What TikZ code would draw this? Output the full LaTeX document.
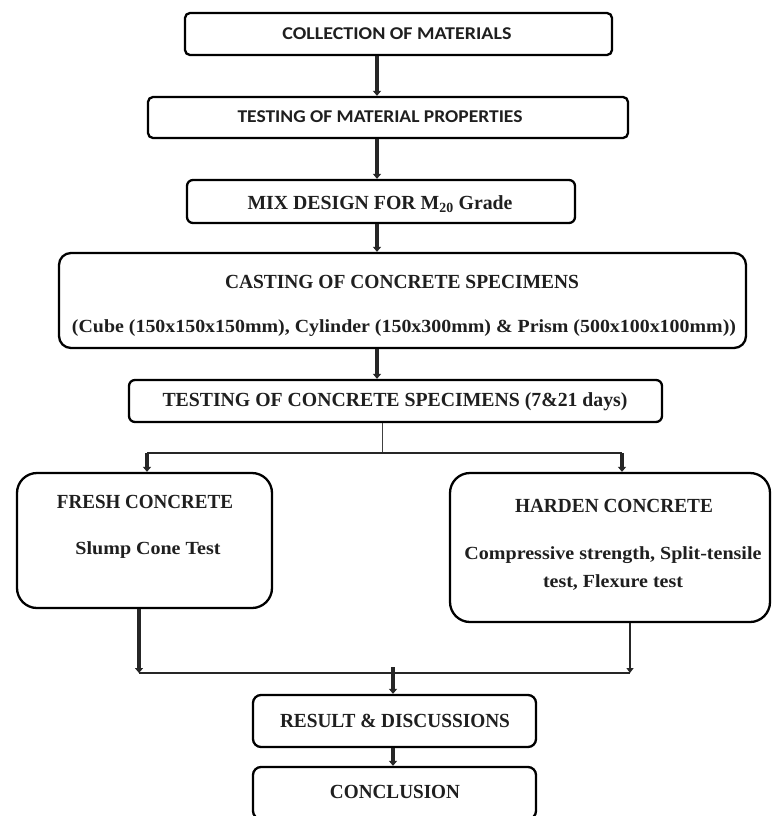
\documentclass[tikz,border=0pt]{standalone}
\usepackage{fontspec}
\setmainfont{Liberation Serif}
\newfontfamily\calib{Carlito}
\usepackage{graphicx}
\usetikzlibrary{arrows.meta}
\newcommand\fw[2]{\resizebox{#1}{\height}{#2}}
\begin{document}
\begin{tikzpicture}[x=1pt,y=-1pt,
  box/.style={draw=black, line width=2.3pt, rounded corners=#1, inner sep=0pt, fill=white},
  box/.default=6pt,
  lbl/.style={inner sep=0pt, text=black!88, font=\bfseries\fontsize{20}{22}\selectfont},
  sub/.style={inner sep=0pt, text=black!88, font=\bfseries\fontsize{18.5}{20}\selectfont},
  cal/.style={inner sep=0pt, text=black!88, font=\calib\bfseries\fontsize{18}{20}\selectfont},
  arr/.style={line width=3.6pt, draw=black!85, -{Triangle[width=8pt,length=5pt]}},
  arrb/.style={line width=2.4pt, draw=black!85, -{Triangle[width=7pt,length=5pt]}},
  thin/.style={line width=1pt, draw=black!75},
  bar/.style={line width=2pt, draw=black!85}]
\useasboundingbox (0,0) rectangle (772,816);
\fill[white] (0,0) rectangle (772,816);

% boxes
\node[box=5pt, minimum width=427pt, minimum height=42pt] (b1) at (398.5,34) {};
\node[box=5pt, minimum width=480pt, minimum height=41pt] (b2) at (388,117.5) {};
\node[box=6pt, minimum width=388pt, minimum height=43pt] (b3) at (381,201.5) {};
\node[box=12pt, minimum width=687pt, minimum height=95pt] (b4) at (402.5,300.5) {};
\node[box=6pt, minimum width=533pt, minimum height=42pt] (b5) at (395.5,401) {};
\node[box=20pt, minimum width=255pt, minimum height=135pt] (fresh) at (144.5,540.5) {};
\node[box=20pt, minimum width=320pt, minimum height=149pt] (harden) at (610,547.5) {};
\node[box=8pt, minimum width=283pt, minimum height=52pt] (res) at (394.5,721) {};
\node[box=8pt, minimum width=283pt, minimum height=52pt] (conc) at (394.5,793) {};

% labels
\node[cal] (t1) at (397,34) {\fw{229pt}{COLLECTION OF MATERIALS}};
\node[cal] (t2) at (380,117) {\fw{285pt}{TESTING OF MATERIAL PROPERTIES}};
\node[lbl] (t3) at (380,204) {\fw{265pt}{MIX DESIGN FOR M\textsubscript{20} Grade}};
\node[lbl] (t4a) at (402,282) {\fw{354pt}{CASTING OF CONCRETE SPECIMENS}};
\node[sub] (t4b) at (404,328) {\fw{664pt}{(Cube (150x150x150mm), Cylinder (150x300mm) \& Prism (500x100x100mm))}};
\node[lbl] (t5) at (395,402) {\fw{465pt}{TESTING OF CONCRETE SPECIMENS (7\&21 days)}};
\node[lbl] (tfa) at (145,502) {\fw{176pt}{FRESH CONCRETE}};
\node[sub] (tfb) at (148,550) {\fw{145pt}{Slump Cone Test}};
\node[lbl] (tha) at (614,506) {\fw{198pt}{HARDEN CONCRETE}};
\node[sub] (thb) at (613,555) {\fw{297pt}{Compressive strength, Split-tensile}};
\node[sub] (thc) at (613,583) {\fw{140pt}{test, Flexure test}};
\node[lbl] (tr) at (395,721) {\fw{230pt}{RESULT \& DISCUSSIONS}};
\node[lbl] (tc) at (395,792) {\fw{130pt}{CONCLUSION}};

% main chain
\coordinate (ax) at (377,0);
\draw[arr] (b1.south -| ax) -- (b2.north -| ax);
\draw[arr] (b2.south -| ax) -- (b3.north -| ax);
\draw[arr] (b3.south -| ax) -- (b4.north -| ax);
\draw[arr] (b4.south -| ax) -- (b5.north -| ax);

% split
\coordinate (s) at (382,453);
\coordinate (sl) at (147,453);
\coordinate (sr) at (622,453);
\draw[thin] (b5.south -| s) -- (s);
\draw[bar] (sl) -- (sr);
\draw[arr] (sl) -- (fresh.north -| sl);
\draw[arr] (sr) -- (harden.north -| sr);

% merge
\coordinate (j1) at (139,673);
\coordinate (j2) at (630,673);
\coordinate (jm) at (393,667);
\draw[arr] (fresh.south -| j1) -- (j1);
\draw[arrb] (harden.south -| j2) -- (j2);
\draw[bar] (j1) -- (j2);
\draw[arr] (jm) -- (res.north -| jm);
\draw[arr] (res.south -| jm) -- (conc.north -| jm);
\end{tikzpicture}
\end{document}
